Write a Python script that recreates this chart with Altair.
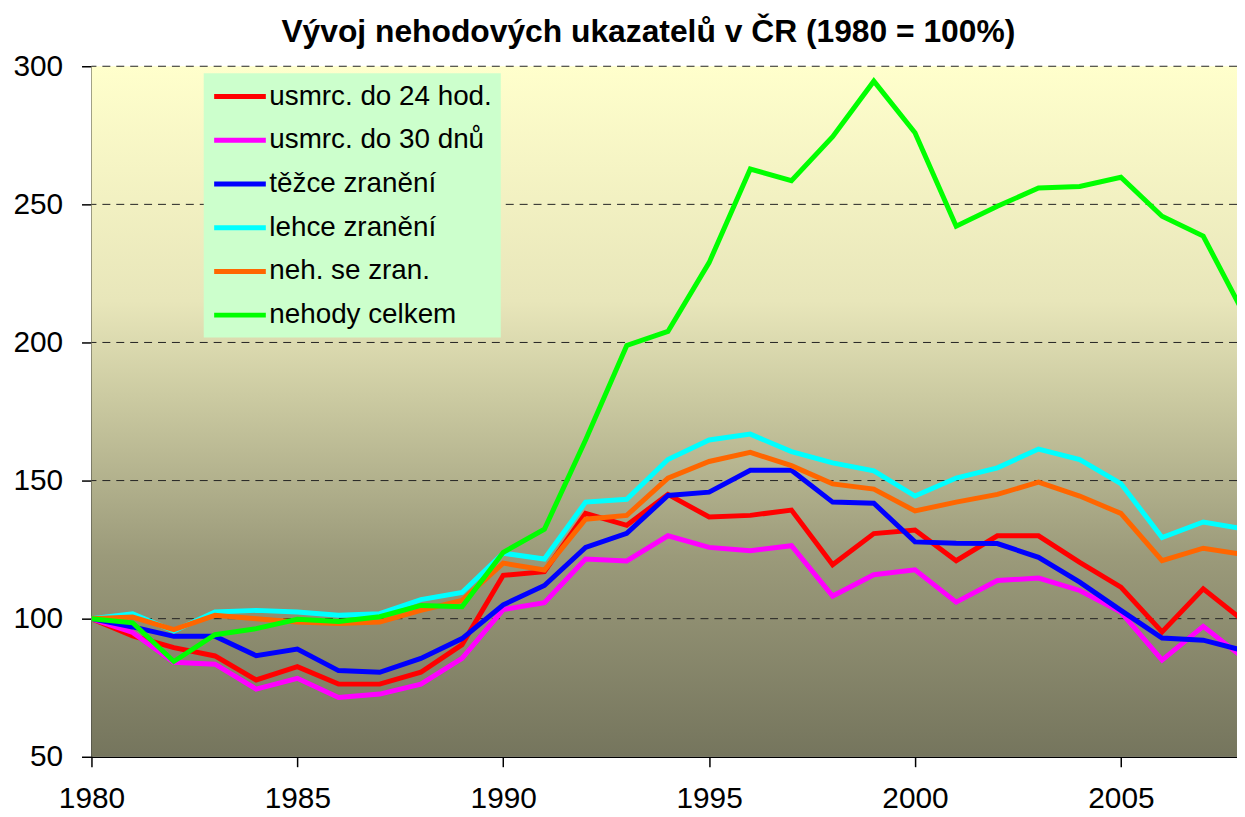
import altair as alt
import pandas as pd

years = list(range(1980, 2009))

series_names = [
    "usmrc. do 24 hod.",
    "usmrc. do 30 dnů",
    "těžce zranění",
    "lehce zranění",
    "neh. se zran.",
    "nehody celkem",
]
series_colors = ["#FF0000", "#FF00FF", "#0000FF", "#00FFFF", "#FF6600", "#00FF00"]

usmrc_24 = [100, 93.8, 89.5, 86.5, 77.8, 82.6, 76.3, 76.3, 80.6, 90.6,
            115.7, 117, 138.1, 133.8, 145, 136.8, 137.4, 139.3, 119.5, 130.8,
            132.1, 121, 130, 130, 120.4, 111.4, 95.2, 110.8, 99]
usmrc_30 = [100, 95, 84.2, 83.5, 74.5, 78.4, 71.5, 72.7, 76.3, 85.6,
            103.3, 105.8, 121.6, 120.9, 130, 125.8, 124.6, 126.4, 108.2, 115.9,
            117.7, 106, 113.8, 114.7, 110.2, 102.4, 85, 97.2, 85.5]
tezce = [100, 97, 93.6, 93.6, 86.6, 89, 81.2, 80.6, 85.6, 92.8,
         105, 112, 125.8, 130.9, 144.6, 145.8, 153.7, 153.7, 142.2, 141.8,
         127.8, 127.3, 127.2, 122.2, 113.2, 103, 93, 92.2, 88.4]
lehce = [100, 101.8, 95.5, 102.4, 103, 102.4, 101.2, 101.8, 106.9, 109.5,
         123.7, 121.6, 142.2, 143.2, 157.6, 164.7, 166.8, 160.5, 156.4, 153.5,
         144.4, 150.9, 154.6, 161.4, 157.6, 148.9, 129.4, 135, 132.5]
neh_zran = [100, 100.6, 96, 101.2, 100, 98.8, 98.2, 98.8, 103, 106.6,
            120.1, 117.6, 136, 137.4, 150.9, 156.9, 160.2, 155.4, 148.8, 146.9,
            139, 142.2, 145, 149.4, 144.4, 138.1, 121, 125.5, 123.2]
nehody = [100, 98.5, 84.5, 94.2, 96.4, 99.8, 99, 100.7, 104.8, 104.3,
          124, 132.4, 164.7, 198.9, 204, 228.9, 262.8, 258.6, 274.5, 294.6,
          275.9, 242.1, 249.3, 255.9, 256.5, 259.8, 245.7, 238.5, 210]

grid_values = [100, 150, 200, 250, 300]
x_ticks = [1980, 1985, 1990, 1995, 2000, 2005]
y_ticks = [50, 100, 150, 200, 250, 300]

all_series = [usmrc_24, usmrc_30, tezce, lehce, neh_zran, nehody]
rows = []
for name, vals in zip(series_names, all_series):
    for yr, v in zip(years, vals):
        rows.append({"rok": yr, "hodnota": v, "ukazatel": name})
df = pd.DataFrame(rows)

FONT = "Liberation Sans, Arial, sans-serif"
W, H = 1153, 695

bg = alt.Chart(pd.DataFrame({"a": [0]})).mark_rect(
    color=alt.LinearGradient(
        gradient="linear",
        stops=[
            alt.GradientStop(offset=0, color="#FFFFCC"),
            alt.GradientStop(offset=0.34, color="#E8E6BA"),
            alt.GradientStop(offset=0.48, color="#CBCAA1"),
            alt.GradientStop(offset=0.71, color="#9B9A7A"),
            alt.GradientStop(offset=1, color="#75755D"),
        ],
        x1=0, x2=0, y1=0, y2=1,
    )
).encode(x=alt.value(0), x2=alt.value("width"), y=alt.value(0), y2=alt.value("height"))

yscale = alt.Scale(domain=[50, 300], nice=False, zero=False)
xscale = alt.Scale(domain=[1980, 2007.82], nice=False, zero=False)

y_axis = alt.Axis(values=y_ticks, title=None, labelPadding=19, labelFontSize=30,
                  labelFont=FONT, labelColor="black", grid=False,
                  domainColor="black", domainWidth=1.5, tickColor="black",
                  tickSize=10, tickWidth=1.5)
x_axis = alt.Axis(values=x_ticks, format="d", title=None, labelPadding=17,
                  labelFontSize=30, labelFont=FONT, labelColor="black", grid=False,
                  labelFlush=False,
                  domainColor="black", domainWidth=1.5, tickColor="black",
                  tickSize=10, tickWidth=1.5)

grid = alt.Chart(pd.DataFrame({"g": grid_values})).mark_rule(
    color="#222222", strokeWidth=1, strokeDash=[8, 6]
).encode(y=alt.Y("g:Q", scale=yscale, axis=y_axis))

lines = alt.Chart(df).mark_line(strokeWidth=5, clip=True, strokeJoin="miter").encode(
    x=alt.X("rok:Q", scale=xscale, axis=x_axis),
    y=alt.Y("hodnota:Q", scale=yscale, axis=y_axis),
    color=alt.Color(
        "ukazatel:N",
        sort=series_names,
        scale=alt.Scale(domain=series_names, range=series_colors),
        legend=alt.Legend(
            title=None,
            orient="none",
            legendX=113,
            legendY=7,
            fillColor="#CCFFCC",
            padding=8,
            symbolType="M-1,0H3",
            symbolSize=676,
            symbolStrokeWidth=5,
            labelFontSize=28,
            labelFont=FONT,
            labelColor="black",
            labelOffset=27,
            labelLimit=500,
            rowPadding=14,
        ),
    ),
)

chart = alt.layer(bg, grid, lines).properties(
    width=W,
    height=H,
    background="white",
    title=alt.TitleParams(
        "Vývoj nehodových ukazatelů v ČR (1980 = 100%)",
        font=FONT, fontSize=32, fontWeight="bold", color="black",
        anchor="middle", dx=-16, offset=2,
    ),
    autosize=alt.AutoSizeParams(type="none"),
    padding={"left": 84, "top": 56, "right": 0, "bottom": 60},
).configure_view(strokeWidth=0)

chart.save("out.html", embed_options={"renderer": "svg", "actions": False})
